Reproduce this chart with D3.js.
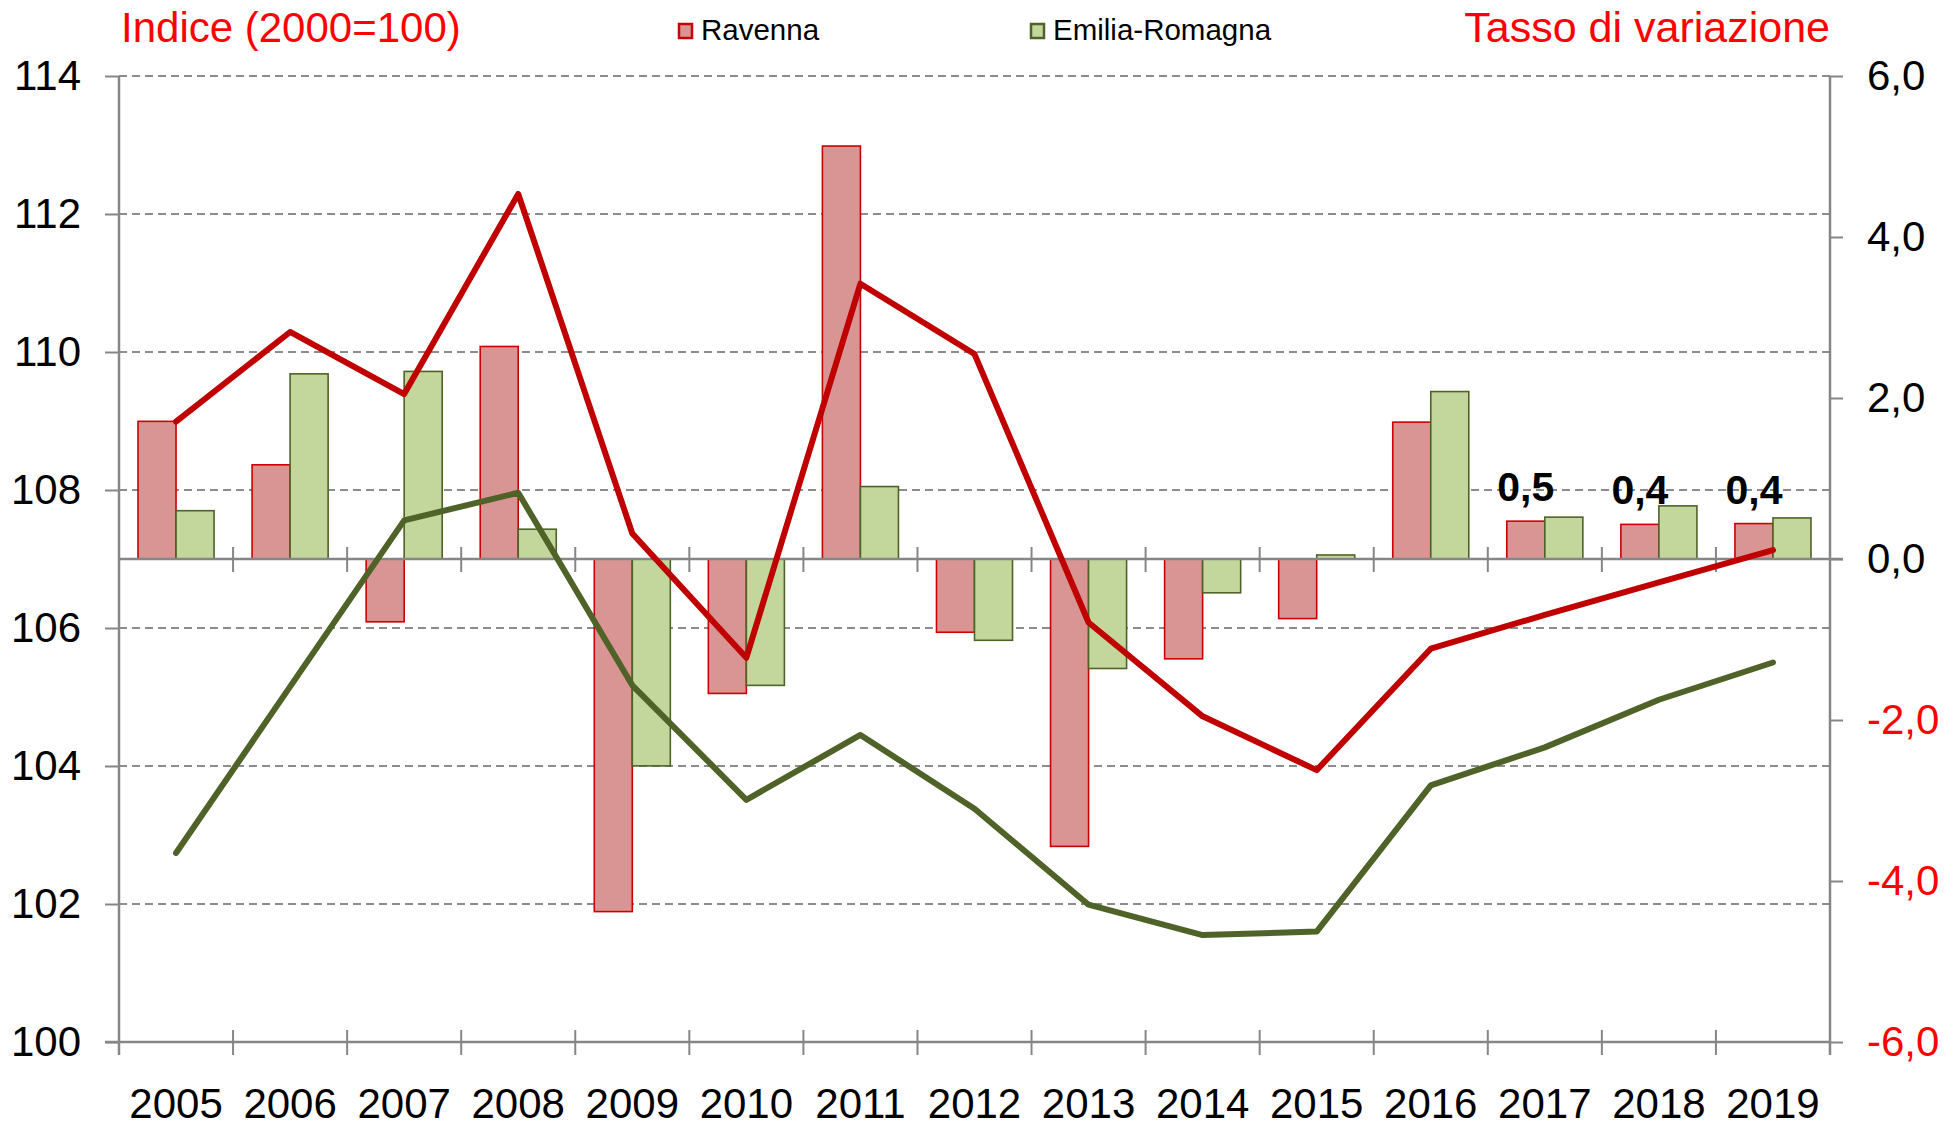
<!DOCTYPE html>
<html>
<head>
<meta charset="utf-8">
<script src="https://cdn.jsdelivr.net/npm/d3@7"></script>
<style>
  html, body { margin: 0; padding: 0; background: #fff; }
  svg { display: block; font-family: "Liberation Sans", Arial, sans-serif; }
</style>
</head>
<body>
<svg id="chart" width="1960" height="1126"></svg>
<script>
// Years on the category axis
const years = ["2005","2006","2007","2008","2009","2010","2011","2012","2013","2014","2015","2016","2017","2018","2019"];

// Annual growth rate (%), bars on the right axis
const tassoRavenna = [1.71, 1.17, -0.78, 2.64, -4.38, -1.67, 5.13, -0.91, -3.57, -1.24, -0.74, 1.70, 0.47, 0.43, 0.44];
const tassoEmilia  = [0.60, 2.30, 2.33, 0.37, -2.57, -1.57, 0.90, -1.01, -1.36, -0.42, 0.05, 2.08, 0.52, 0.66, 0.51];

// Index 2000 = 100, lines on the left axis
const indiceRavenna = [108.99, 110.29, 109.39, 112.29, 107.37, 105.57, 110.99, 109.97, 106.08, 104.72, 103.94, 105.70, 106.19, 106.66, 107.13];
const indiceEmilia  = [102.74, 105.15, 107.56, 107.96, 105.17, 103.51, 104.45, 103.38, 101.99, 101.55, 101.60, 103.72, 104.27, 104.96, 105.50];

// Years whose Ravenna bar carries a value label
const labelledYears = ["2017", "2018", "2019"];

// Tick values
const leftTicks  = [100, 102, 104, 106, 108, 110, 112, 114];
const rightTicks = [-6, -4, -2, 0, 2, 4, 6];

const seriesNames = ["Ravenna", "Emilia-Romagna"];

const itLocale = d3.formatLocale({ decimal: ",", thousands: ".", grouping: [3], currency: ["", "€"], minus: "-" });
const fmt1 = itLocale.format(".1f");

(function draw() {
  const svg = d3.select("#chart");

  const plotLeft = 119, plotRight = 1830, plotTop = 76, plotBottom = 1042;
  const axisColor = "#868686";
  const redLine = "#C00000", greenLine = "#4F6228";
  const redFill = "#D99594", greenFill = "#C3D69B";
  const redStroke = "#CC0000";
  const font = "Liberation Sans, Arial, sans-serif";
  const tickFont = 42;

  const x = d3.scaleBand().domain(years).range([plotLeft, plotRight]).paddingInner(0).paddingOuter(0);
  const xSub = d3.scaleBand().domain(seriesNames).range([0, x.bandwidth()]).paddingInner(0).paddingOuter(0.5);
  const yLeft = d3.scaleLinear().domain([100, 114]).range([plotBottom, plotTop]);
  const yRight = d3.scaleLinear().domain([-6, 6]).range([plotBottom, plotTop]);

  // Dashed horizontal gridlines at the left-axis ticks
  svg.append("g").selectAll("line")
    .data(leftTicks.filter(t => t > 100))
    .join("line")
    .attr("x1", plotLeft).attr("x2", plotRight)
    .attr("y1", d => yLeft(d)).attr("y2", d => yLeft(d))
    .attr("stroke", "#8c8c8c").attr("stroke-width", 2)
    .attr("stroke-dasharray", "8,5");

  // Bars
  const rows = years.map((y, i) => ({ year: y, values: [
    { name: "Ravenna", v: tassoRavenna[i], fill: redFill, stroke: redStroke },
    { name: "Emilia-Romagna", v: tassoEmilia[i], fill: greenFill, stroke: greenLine }
  ]}));

  const groups = svg.append("g").selectAll("g")
    .data(rows).join("g")
    .attr("transform", d => `translate(${x(d.year)},0)`);

  groups.selectAll("rect")
    .data(d => d.values).join("rect")
    .attr("x", d => xSub(d.name))
    .attr("width", xSub.bandwidth())
    .attr("y", d => yRight(Math.max(0, d.v)))
    .attr("height", d => Math.abs(yRight(d.v) - yRight(0)))
    .attr("fill", d => d.fill)
    .attr("stroke", d => d.stroke)
    .attr("stroke-width", 1.6);

  // Zero line of the growth-rate axis with crossing ticks at category boundaries
  const boundaries = years.map(y => x(y)).concat([x(years[years.length - 1]) + x.bandwidth()]);
  const y0 = yRight(0);
  svg.append("line")
    .attr("x1", plotLeft).attr("x2", plotRight + 13)
    .attr("y1", y0).attr("y2", y0)
    .attr("stroke", axisColor).attr("stroke-width", 2.5);
  svg.append("g").selectAll("line")
    .data(boundaries.slice(1, -1)).join("line")
    .attr("x1", d => d).attr("x2", d => d)
    .attr("y1", y0 - 12).attr("y2", y0 + 13)
    .attr("stroke", axisColor).attr("stroke-width", 2);

  // Bottom category axis
  svg.append("line")
    .attr("x1", plotLeft - 14).attr("x2", plotRight)
    .attr("y1", plotBottom).attr("y2", plotBottom)
    .attr("stroke", axisColor).attr("stroke-width", 2.5);
  svg.append("g").selectAll("line")
    .data(boundaries).join("line")
    .attr("x1", d => d).attr("x2", d => d)
    .attr("y1", plotBottom - 12).attr("y2", plotBottom + 13)
    .attr("stroke", axisColor).attr("stroke-width", 2);

  const xAxis = svg.append("g")
    .attr("transform", `translate(0,${plotBottom})`)
    .call(d3.axisBottom(x).tickSize(0).tickPadding(0));
  xAxis.select(".domain").remove();
  xAxis.selectAll("text")
    .attr("y", 76).attr("dy", null)
    .attr("font-size", tickFont).attr("fill", "#000")
    .attr("font-family", font);

  // Left axis (index)
  const leftAxis = svg.append("g")
    .attr("transform", `translate(${plotLeft},0)`)
    .call(d3.axisLeft(yLeft).tickValues(leftTicks).tickSize(14).tickPadding(24).tickFormat(d3.format("d")));
  leftAxis.select(".domain").attr("d", `M0,${plotTop}V${plotBottom + 13}`).attr("stroke", axisColor).attr("stroke-width", 2.5);
  leftAxis.selectAll(".tick line").attr("stroke", axisColor).attr("stroke-width", 2);
  leftAxis.selectAll("text").attr("font-size", tickFont).attr("fill", "#000")
    .attr("font-family", font);

  // Right axis (growth rate)
  const rightAxis = svg.append("g")
    .attr("transform", `translate(${plotRight},0)`)
    .call(d3.axisRight(yRight).tickValues(rightTicks).tickSize(13).tickPadding(24).tickFormat(d => fmt1(d)));
  rightAxis.select(".domain").attr("d", `M0,${plotTop}V${plotBottom + 13}`).attr("stroke", axisColor).attr("stroke-width", 2.5);
  rightAxis.selectAll(".tick line").attr("stroke", axisColor).attr("stroke-width", 2);
  rightAxis.selectAll("text").attr("font-size", tickFont)
    .attr("fill", d => d < 0 ? "#FF0000" : "#000")
    .attr("font-family", font);

  // Index lines
  const cx = y => x(y) + x.bandwidth() / 2;
  const line = d3.line().x(d => cx(d.year)).y(d => yLeft(d.v));

  svg.append("path")
    .datum(years.map((y, i) => ({ year: y, v: indiceRavenna[i] })))
    .attr("d", line).attr("fill", "none")
    .attr("stroke", redLine).attr("stroke-width", 6)
    .attr("stroke-linejoin", "round").attr("stroke-linecap", "round");

  svg.append("path")
    .datum(years.map((y, i) => ({ year: y, v: indiceEmilia[i] })))
    .attr("d", line).attr("fill", "none")
    .attr("stroke", greenLine).attr("stroke-width", 6)
    .attr("stroke-linejoin", "round").attr("stroke-linecap", "round");

  // Value labels over the last Ravenna bars
  svg.append("g").selectAll("text")
    .data(labelledYears.map(y => ({ year: y, v: tassoRavenna[years.indexOf(y)] })))
    .join("text")
    .attr("x", d => x(d.year) + xSub("Ravenna") + xSub.bandwidth() / 2)
    .attr("y", d => yRight(d.v) - 20)
    .attr("text-anchor", "middle")
    .attr("font-size", 41).attr("font-weight", "bold").attr("fill", "#000")
    .text(d => fmt1(d.v));

  // Axis titles
  svg.append("text")
    .attr("x", 121).attr("y", 42)
    .attr("font-size", 42).attr("fill", "#FF0000")
    .text("Indice (2000=100)");
  svg.append("text")
    .attr("x", plotRight).attr("y", 42)
    .attr("text-anchor", "end")
    .attr("font-size", 43).attr("fill", "#FF0000")
    .text("Tasso di variazione");

  // Legend
  const legend = [
    { name: "Ravenna", x: 678, fill: redFill, stroke: redStroke },
    { name: "Emilia-Romagna", x: 1030, fill: greenFill, stroke: greenLine }
  ];
  const lg = svg.append("g").selectAll("g").data(legend).join("g")
    .attr("transform", d => `translate(${d.x},0)`);
  lg.append("rect")
    .attr("x", 1).attr("y", 24).attr("width", 13).attr("height", 14)
    .attr("fill", d => d.fill).attr("stroke", d => d.stroke).attr("stroke-width", 2.5);
  lg.append("text")
    .attr("x", 23).attr("y", 40)
    .attr("font-size", 29.5).attr("fill", "#000")
    .text(d => d.name);
})();
</script>
</body>
</html>
